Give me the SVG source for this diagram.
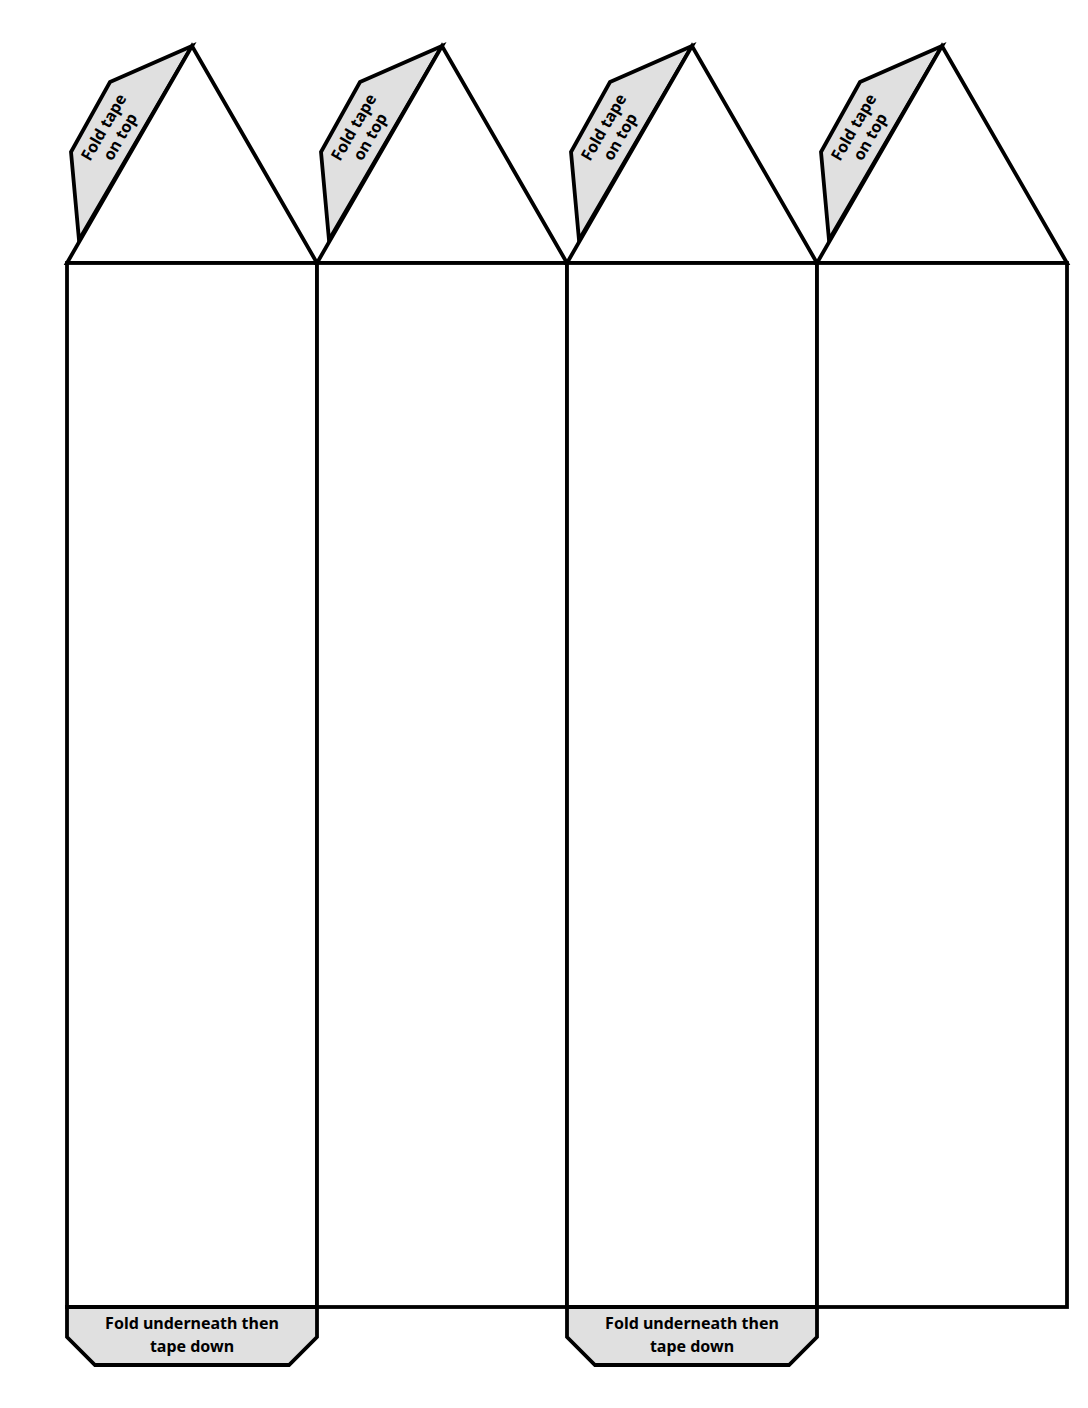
<svg xmlns="http://www.w3.org/2000/svg" width="1088" height="1408" viewBox="0 0 1088 1408">
<style>
.wh{fill:#fff;stroke:#000;stroke-width:3.8}
.tab{fill:#e0e0e0;stroke:#000;stroke-width:3.8;stroke-linejoin:miter}
.t{font-family:"Noto Sans","Liberation Sans",sans-serif;font-weight:bold;font-size:16px;fill:#000;text-anchor:middle}
</style>
<defs>
<g id="toptab">
<path class="tab" d="M192,46 L110,82 L71,152 L79,240 Z"/>
<g transform="translate(112,132) rotate(-60)">
<text class="t" x="0" y="-4">Fold tape</text>
<text class="t" x="0" y="15">on top</text>
</g>
</g>
<g id="bottab">
<path class="tab" d="M67,1307 L317,1307 L317,1337 L289,1365 L95,1365 L67,1337 Z"/>
<text class="t" x="192" y="1329">Fold underneath then</text>
<text class="t" x="192" y="1352">tape down</text>
</g>
</defs>
<rect width="1088" height="1408" fill="#fff"/>
<g id="col1">
<use href="#toptab"/>
<path class="wh" d="M67,263 L192,46 L317,263 Z"/>
<rect class="wh" x="67" y="263" width="250" height="1044"/>
<use href="#bottab"/>
</g>
<g id="col2">
<use href="#toptab" x="250"/>
<path class="wh" d="M317,263 L442,46 L567,263 Z"/>
<rect class="wh" x="317" y="263" width="250" height="1044"/>
</g>
<g id="col3">
<use href="#toptab" x="500"/>
<path class="wh" d="M567,263 L692,46 L817,263 Z"/>
<rect class="wh" x="567" y="263" width="250" height="1044"/>
<use href="#bottab" x="500"/>
</g>
<g id="col4">
<use href="#toptab" x="750"/>
<path class="wh" d="M817,263 L942,46 L1067,263 Z"/>
<rect class="wh" x="817" y="263" width="250" height="1044"/>
</g>
</svg>
